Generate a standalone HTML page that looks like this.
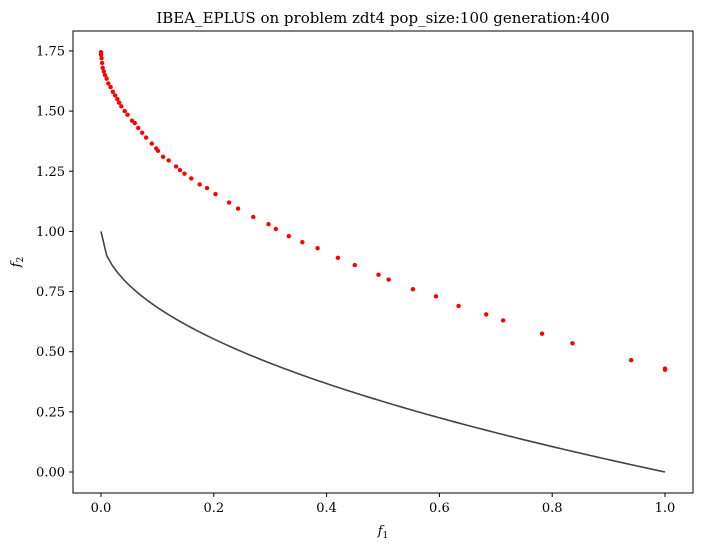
<!DOCTYPE html>
<html><head><meta charset="utf-8"><style>body{margin:0;background:#fff}svg{display:block}text{font-family:"DejaVu Serif","Liberation Serif",serif;fill:#000}</style></head>
<body>
<svg id="chart" width="703" height="550" xmlns="http://www.w3.org/2000/svg">
<rect width="703" height="550" fill="#fff"/>
<text x="383" y="23" font-size="15" text-anchor="middle">IBEA_EPLUS on problem zdt4 pop_size:100 generation:400</text>
<g id="plot"></g>
<rect x="73" y="31" width="620" height="462" fill="none" stroke="#000" stroke-width="1"/>
<text x="383" y="535" font-size="13" font-style="italic" text-anchor="middle">f<tspan font-size="9" dy="3" font-style="normal">1</tspan></text>
<text x="0" y="0" font-size="13" font-style="italic" text-anchor="middle" transform="translate(20,262) rotate(-90)">f<tspan font-size="9" dy="3" font-style="normal">2</tspan></text>
</svg>
<script>
const xTicks=[0,0.2,0.4,0.6,0.8,1.0];
const yTicks=[0,0.25,0.5,0.75,1.0,1.25,1.5,1.75];
const solF1=[0,0,0.001,0.002,0.003,0.005,0.007,0.01,0.013,0.017,0.021,0.025,0.029,0.032,0.036,0.042,0.047,0.055,0.06,0.066,0.073,0.08,0.09,0.098,0.101,0.11,0.12,0.133,0.14,0.148,0.16,0.175,0.188,0.203,0.227,0.243,0.27,0.297,0.31,0.333,0.357,0.384,0.42,0.45,0.492,0.51,0.553,0.594,0.634,0.683,0.713,0.782,0.836,0.94,1.0,1.0];
const solF2=[1.745,1.735,1.72,1.70,1.68,1.665,1.65,1.635,1.615,1.60,1.58,1.565,1.55,1.535,1.52,1.50,1.485,1.46,1.45,1.43,1.41,1.39,1.365,1.345,1.335,1.31,1.295,1.27,1.255,1.24,1.22,1.195,1.18,1.155,1.12,1.095,1.06,1.03,1.01,0.98,0.955,0.93,0.89,0.86,0.82,0.80,0.76,0.73,0.69,0.655,0.63,0.575,0.535,0.465,0.43,0.425];
const frontF1=[];for(let i=0;i<100;i++)frontF1.push(i/99);
const frontF2=frontF1.map(v=>1-Math.sqrt(v));
const X=v=>101+v*564, Y=v=>472-v*240.6;
const NS="http://www.w3.org/2000/svg", svg=document.getElementById('chart'), g=document.getElementById('plot');
function mk(t,a,p){const e=document.createElementNS(NS,t);for(const k in a)e.setAttribute(k,a[k]);(p||g).appendChild(e);return e;}
xTicks.forEach(t=>{const l=mk('line',{x1:X(t),x2:X(t),y1:493,y2:497,stroke:'#000'},svg);


const tx=mk('text',{x:X(t),y:512,'font-size':13,'text-anchor':'middle'},svg);tx.textContent=t.toFixed(1);

});
yTicks.forEach(t=>{const l=mk('line',{x1:69,x2:73,y1:Y(t),y2:Y(t),stroke:'#000'},svg);


const tx=mk('text',{x:65,y:Y(t)+4.5,'font-size':13,'text-anchor':'end'},svg);tx.textContent=t.toFixed(2);

});
const pl=mk('polyline',{points:frontF1.map((v,i)=>X(v)+','+Y(frontF2[i])).join(' '),fill:'none',stroke:'#444',"stroke-width":1.6});


solF1.forEach((v,i)=>{const c=mk('circle',{cx:X(v),cy:Y(solF2[i]),r:2.2,fill:'#f00'});

});
</script>
</body></html>
